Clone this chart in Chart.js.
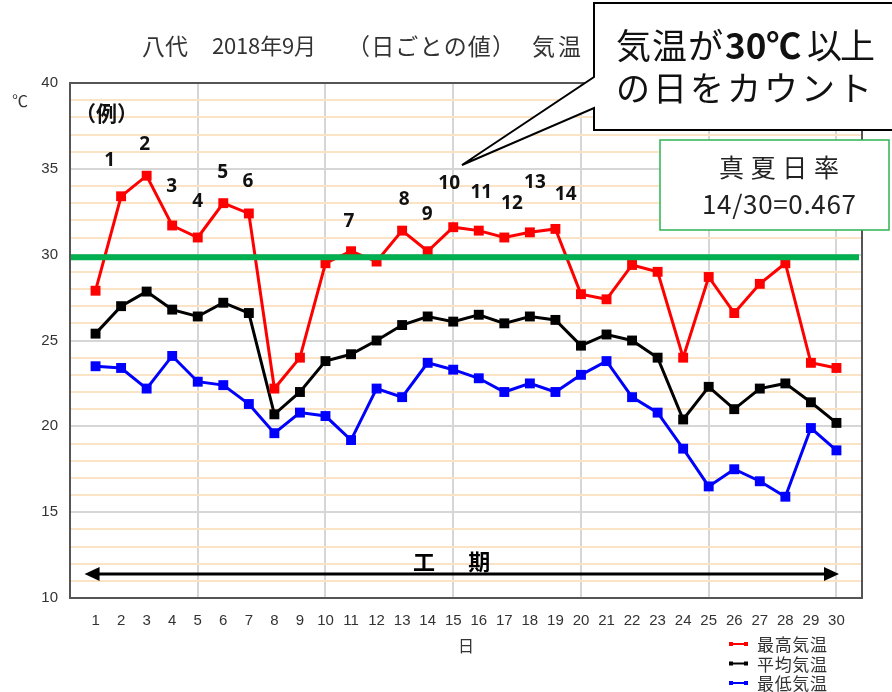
<!DOCTYPE html>
<html lang="ja">
<head>
<meta charset="utf-8">
<title>八代 2018年9月 気温</title>
<script src="https://cdn.jsdelivr.net/npm/chart.js@4.4.0/dist/chart.umd.min.js"></script>
<style>
  html, body { margin: 0; padding: 0; background: #fff; }
  #wrap { position: relative; width: 892px; height: 692px; }
</style>
</head>
<body>
<div id="wrap"><canvas id="chart" width="892" height="692"></canvas></div>
<script>
// --- data ---
const days = [1, 2, 3, 4, 5, 6, 7, 8, 9, 10, 11, 12, 13, 14, 15,
              16, 17, 18, 19, 20, 21, 22, 23, 24, 25, 26, 27, 28, 29, 30];
const maxTemp = [27.9, 33.4, 34.6, 31.7, 31.0, 33.0, 32.4, 22.2, 24.0, 29.5,
                 30.2, 29.6, 31.4, 30.2, 31.6, 31.4, 31.0, 31.3, 31.5, 27.7,
                 27.4, 29.4, 29.0, 24.0, 28.7, 26.6, 28.3, 29.5, 23.7, 23.4];
const avgTemp = [25.4, 27.0, 27.85, 26.8, 26.4, 27.2, 26.6, 20.7, 22.0, 23.8,
                 24.2, 25.0, 25.9, 26.4, 26.1, 26.5, 26.0, 26.4, 26.2, 24.7,
                 25.35, 25.0, 24.0, 20.4, 22.3, 21.0, 22.2, 22.5, 21.4, 20.2];
const minTemp = [23.5, 23.4, 22.2, 24.1, 22.6, 22.4, 21.3, 19.6, 20.8, 20.6,
                 19.2, 22.2, 21.7, 23.7, 23.3, 22.8, 22.0, 22.5, 22.0, 23.0,
                 23.8, 21.7, 20.8, 18.7, 16.5, 17.5, 16.8, 15.9, 19.9, 18.6];
const seriesNames = ['最高気温', '平均気温', '最低気温'];
const seriesColors = ['#ff0000', '#000000', '#0000ff'];

// axis ranges / ticks
const yMin = 10, yMax = 40, yLabelStep = 5;
const xMin = 0, xMax = 31;

// 30℃ threshold line
const threshold = 29.85;

// count labels for days >= 30℃, placed in data units (day, ℃)
const hotLabels = ['1', '2', '3', '4', '5', '6', '7', '8', '9', '10', '11', '12', '13', '14'];
const hotLabelPos = [[1.55, 35.5], [2.92, 36.4], [3.98, 33.95], [5.0, 33.1], [5.98, 34.8],
                     [6.96, 34.25], [10.92, 31.9], [13.08, 33.2], [13.98, 32.33], [14.84, 34.13],
                     [16.1, 33.6], [17.3, 33.0], [18.2, 34.2], [19.4, 33.5]];

const JP = '"Noto Sans CJK JP", "Noto Sans", sans-serif';
const NARROW = '"Liberation Sans Narrow", "Liberation Sans", Arial, sans-serif';

function toPoints(values) {
    return days.map((d, i) => ({ x: d, y: values[i] }));
}

// draw text left-aligned, spreading the characters over a given width
function spreadText(ctx, text, x, y, width) {
    const chars = Array.from(text);
    const widths = chars.map(ch => ctx.measureText(ch).width);
    const total = widths.reduce((s, w) => s + w, 0);
    const gap = chars.length > 1 ? (width - total) / (chars.length - 1) : 0;
    let cx = x;
    chars.forEach((ch, i) => {
        ctx.fillText(ch, cx, y);
        cx += widths[i] + gap;
    });
}

/**
 * Everything the library does not draw by itself:
 * frame, title, unit, labels, arrow, legend and callouts
 */
const decorPlugin = {
    id: 'decor',
    afterDatasetsDraw(chart) {
        const { ctx, chartArea: a, scales: { y } } = chart;
        const gy = y.getPixelForValue(threshold);
        ctx.save();
        ctx.strokeStyle = '#00b050';
        ctx.lineWidth = 6;
        ctx.beginPath();
        ctx.moveTo(a.left + 1, gy);
        ctx.lineTo(a.right - 3, gy);
        ctx.stroke();
        ctx.restore();
    },
    afterDraw(chart) {
        const { ctx, chartArea: a, scales: { x, y } } = chart;
        ctx.save();

        // plot frame
        ctx.strokeStyle = '#555';
        ctx.lineWidth = 2;
        ctx.strokeRect(a.left, a.top, a.right - a.left, a.bottom - a.top);

        // title, in four spaced pieces like the original
        ctx.fillStyle = '#333';
        ctx.textAlign = 'left';
        ctx.textBaseline = 'middle';
        ctx.font = '23px ' + JP;
        ctx.fillText('八代', 142, 46);
        ctx.font = '22px ' + JP;
        spreadText(ctx, '2018年9月', 212, 46, 104);
        ctx.font = '23px ' + JP;
        spreadText(ctx, '（日ごとの値）', 347, 46, 168);
        spreadText(ctx, '気温', 532, 46, 49);

        // unit and x title
        ctx.font = '16px ' + JP;
        ctx.textAlign = 'center';
        ctx.fillText('℃', 20, 101);
        ctx.fillText('日', (a.left + a.right) / 2, 646);

        // (例)
        ctx.fillStyle = '#111';
        ctx.font = 'bold 21px ' + JP;
        ctx.fillText('（例）', x.getPixelForValue(1.43), y.getPixelForValue(38.26));

        // day counters
        ctx.font = 'bold 19px "Noto Sans", "Open Sans", sans-serif';
        hotLabels.forEach((t, i) => {
            const [dx, dy] = hotLabelPos[i];
            ctx.fillText(t, x.getPixelForValue(dx), y.getPixelForValue(dy));
        });

        // construction period arrow
        const ay = y.getPixelForValue(11.4);
        const ax1 = x.getPixelForValue(0.57);
        const ax2 = x.getPixelForValue(30.1);
        ctx.strokeStyle = '#000';
        ctx.fillStyle = '#000';
        ctx.lineWidth = 3;
        ctx.beginPath();
        ctx.moveTo(ax1 + 10, ay);
        ctx.lineTo(ax2 - 10, ay);
        ctx.stroke();
        ctx.beginPath();
        ctx.moveTo(ax1, ay);
        ctx.lineTo(ax1 + 15, ay - 7);
        ctx.lineTo(ax1 + 15, ay + 7);
        ctx.closePath();
        ctx.fill();
        ctx.beginPath();
        ctx.moveTo(ax2, ay);
        ctx.lineTo(ax2 - 15, ay - 7);
        ctx.lineTo(ax2 - 15, ay + 7);
        ctx.closePath();
        ctx.fill();
        ctx.font = 'bold 22px ' + JP;
        ctx.fillText('工', x.getPixelForValue(13.86), y.getPixelForValue(12.1));
        ctx.fillText('期', x.getPixelForValue(16.02), y.getPixelForValue(12.1));

        // legend (vertical, bottom right)
        ctx.font = '17px ' + JP;
        ctx.textAlign = 'left';
        chart.data.datasets.forEach((ds, i) => {
            const ly = 644 + i * 19.5;
            ctx.strokeStyle = ds.borderColor;
            ctx.fillStyle = ds.borderColor;
            ctx.lineWidth = 2;
            ctx.beginPath();
            ctx.moveTo(729, ly);
            ctx.lineTo(748, ly);
            ctx.stroke();
            ctx.fillRect(729, ly - 2, 4, 4);
            ctx.fillRect(744, ly - 2, 4, 4);
            ctx.fillStyle = '#333';
            spreadText(ctx, ds.label, 757, ly + 1, 70);
        });

        // speech-bubble callout
        ctx.fillStyle = '#fff';
        ctx.strokeStyle = '#000';
        ctx.lineWidth = 2;
        ctx.beginPath();
        ctx.moveTo(594, 3);
        ctx.lineTo(896, 3);
        ctx.lineTo(896, 130);
        ctx.lineTo(594, 130);
        ctx.lineTo(594, 108);
        ctx.lineTo(462, 165);
        ctx.lineTo(594, 77);
        ctx.closePath();
        ctx.fill();
        ctx.stroke();

        ctx.fillStyle = '#111';
        ctx.font = '35px ' + JP;
        spreadText(ctx, '気温が', 616, 46, 107);
        ctx.font = 'bold 35px ' + JP;
        ctx.fillText('30℃', 725, 46);
        ctx.font = '35px ' + JP;
        spreadText(ctx, '以上', 807, 46, 68);
        ctx.font = '34px ' + JP;
        spreadText(ctx, 'の日をカウント', 616, 88, 256);

        // ratio box
        ctx.fillStyle = '#fff';
        ctx.fillRect(660, 140, 229, 90);
        ctx.strokeStyle = '#2fb351';
        ctx.lineWidth = 1.5;
        ctx.strokeRect(660, 140, 229, 90);
        ctx.fillStyle = '#222';
        ctx.font = '25px ' + JP;
        spreadText(ctx, '真夏日率', 719, 167, 120);
        ctx.font = '26px ' + JP;
        spreadText(ctx, '14/30=0.467', 702, 204, 154);

        ctx.restore();
    }
};

const datasets = [maxTemp, avgTemp, minTemp].map((vals, i) => ({
    label: seriesNames[i],
    data: toPoints(vals),
    borderColor: seriesColors[i],
    backgroundColor: seriesColors[i],
    borderWidth: 3,
    pointStyle: 'rect',
    pointRadius: 7,
    pointBorderWidth: 0,
    tension: 0
}));

new Chart(document.getElementById('chart'), {
    type: 'line',
    data: { datasets },
    options: {
        responsive: false,
        animation: false,
        events: [],
        layout: { padding: { left: 0, right: 30, top: 83, bottom: 0 } },
        plugins: {
            legend: { display: false },
            tooltip: { enabled: false }
        },
        scales: {
            x: {
                type: 'linear',
                min: xMin,
                max: xMax,
                afterFit: s => { s.height = 94; },
                border: { display: false },
                grid: {
                    drawTicks: false,
                    lineWidth: 2,
                    color: c => (c.tick && c.tick.value % 5 === 0 && c.tick.value > xMin && c.tick.value < xMax)
                        ? '#d6d6d6' : 'rgba(0,0,0,0)'
                },
                ticks: {
                    stepSize: 1,
                    autoSkip: false,
                    maxRotation: 0,
                    padding: 14,
                    color: '#333',
                    font: { family: NARROW, size: 15 },
                    callback: v => (v >= 1 && v <= 30) ? v : ''
                }
            },
            y: {
                min: yMin,
                max: yMax,
                afterFit: s => { s.width = 70; },
                border: { display: false },
                grid: {
                    drawTicks: false,
                    lineWidth: 2,
                    color: c => (c.tick && c.tick.value % yLabelStep === 0) ? '#d6d6d6' : '#fbe4c6'
                },
                ticks: {
                    stepSize: 1,
                    autoSkip: false,
                    padding: 12,
                    color: '#333',
                    font: { family: NARROW, size: 15 },
                    callback: v => v % yLabelStep === 0 ? v : ''
                }
            }
        }
    },
    plugins: [decorPlugin]
});
</script>
</body>
</html>
